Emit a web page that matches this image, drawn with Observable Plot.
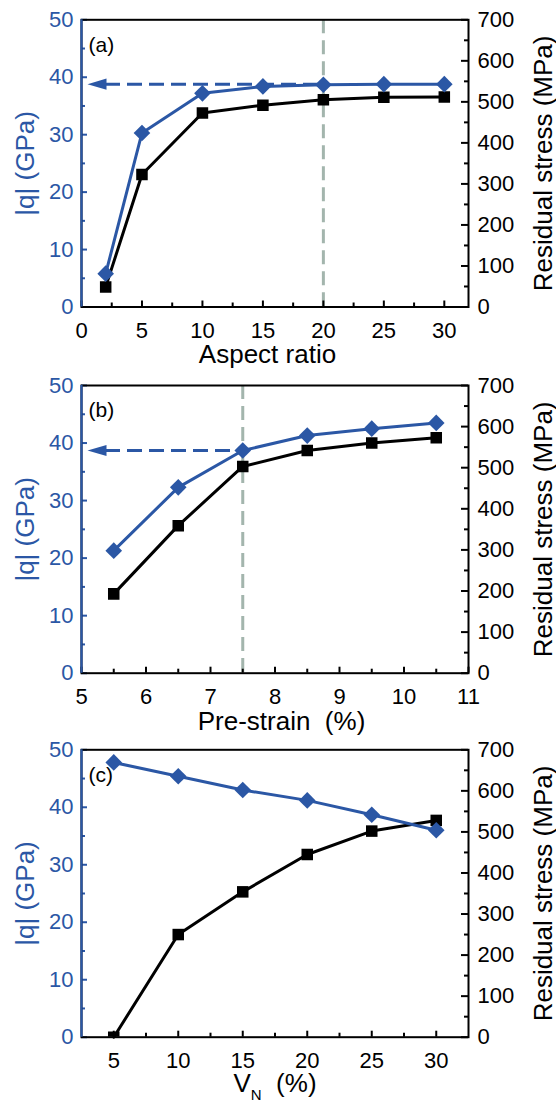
<!DOCTYPE html>
<html><head><meta charset="utf-8">
<script src="https://cdn.jsdelivr.net/npm/d3@7"></script>
<script src="https://cdn.jsdelivr.net/npm/@observablehq/plot@0.6"></script>
<style>
body{margin:0;background:#fff;}
#chart svg{display:block;}
#chart text{white-space:pre;}
</style></head><body><div id="chart"></div>
<script>
const BLUE = "#2b57a5";
const GRAY = "#a3b5ad";
const FONT = "'Liberation Sans', Arial, 'DejaVu Sans', sans-serif";

// Panel (a): aspect ratio
const aspectRatio = [2, 5, 10, 15, 20, 25, 30];
const aspectQ = [5.8, 30.3, 37.2, 38.4, 38.7, 38.8, 38.8];
const aspectStress = [49, 323, 473, 492, 505, 511, 512];
// Panel (b): pre-strain
const preStrain = [5.5, 6.5, 7.5, 8.5, 9.5, 10.5];
const preQ = [21.3, 32.3, 38.7, 41.3, 42.5, 43.5];
const preStress = [193, 359, 503, 542, 560, 573];
// Panel (c): V_N
const vnPercent = [5, 10, 15, 20, 25, 30];
const vnQ = [47.8, 45.4, 43.0, 41.2, 38.7, 36.0];
const vnStress = [0, 250, 354, 445, 502, 528];

// reference guide lines (vertical x, horizontal |q|)
const refX = [20, 7.5, null];
const refQ = [38.8, 38.7, null];

const panelLetters = ["(a)", "(b)", "(c)"];
const xLabels = ["Aspect ratio", "Pre-strain  (%)", "VN  (%)"];
const xDomains = [[0, 32], [5, 11], [2.5, 32.5]];
const xMajor = [[0, 5, 10, 15, 20, 25, 30], [5, 6, 7, 8, 9, 10, 11], [5, 10, 15, 20, 25, 30]];
const xMinor = [[2.5, 7.5, 12.5, 17.5, 22.5, 27.5], [5.5, 6.5, 7.5, 8.5, 9.5, 10.5], [7.5, 12.5, 17.5, 22.5, 27.5]];
const qTicks = [0, 10, 20, 30, 40, 50];
const qMinor = [5, 15, 25, 35, 45];
const stressTicks = [0, 100, 200, 300, 400, 500, 600, 700];
const stressMinor = [50, 150, 250, 350, 450, 550, 650];
const STRESS_PER_Q = 700 / 50; // right axis 0–700 MPa aligned with left 0–50 GPa

const W = 556, ML = 81, MR = 88;
const FW = W - ML - MR;
const layout = [
  {height: 367, mt: 19.3, mb: 60.5, labelDy: 38, labelDx: -7.5},
  {height: 367, mt: 18, mb: 61.3, labelDy: 38, labelDx: 6.5},
  {height: 369, mt: 15.3, mb: 66.3, labelDy: 36, labelDx: 0}
];

const arrowHead = {
  draw(context, size) {
    const r = Math.sqrt(size / Math.PI);
    context.moveTo(0, 0);
    context.lineTo(2 * r, -0.58 * r);
    context.lineTo(2 * r, 0.58 * r);
    context.closePath();
  }
};

function panel(i, xs, qs, stresses) {
  const L = layout[i];
  const FH = L.height - L.mt - L.mb;
  const rows = xs.map((x, j) => ({x, q: qs[j], s: stresses[j] / STRESS_PER_Q}));
  const xmin = xDomains[i][0];
  const sMaj = stressTicks.map(v => v / STRESS_PER_Q);
  const sMin = stressMinor.map(v => v / STRESS_PER_Q);
  const marks = [];
  if (refX[i] != null) {
    marks.push(Plot.ruleX([refX[i]], {stroke: GRAY, strokeWidth: 3, strokeDasharray: "14,7"}));
  }
  marks.push(
    // inward ticks
    Plot.tickY(qTicks, {stroke: BLUE, strokeWidth: 2, insetRight: FW - 6}),
    Plot.tickY(qMinor, {stroke: BLUE, strokeWidth: 2, insetRight: FW - 4}),
    Plot.tickY(sMaj, {stroke: "black", strokeWidth: 2, insetLeft: FW - 7}),
    Plot.tickY(sMin, {stroke: "black", strokeWidth: 2, insetLeft: FW - 4}),
    Plot.tickX(xMajor[i], {stroke: "black", strokeWidth: 2, insetTop: FH - 6}),
    Plot.tickX(xMinor[i], {stroke: "black", strokeWidth: 2, insetTop: FH - 4}),
    Plot.frame({stroke: "black", strokeWidth: 2}),
    Plot.ruleX([xmin], {stroke: BLUE, strokeWidth: 2.2}),
    // tick labels
    Plot.axisY(qTicks, {anchor: "left", tickSize: 0, tickPadding: 8, color: BLUE, fontSize: 22, label: null}),
    Plot.axisY(sMaj, {anchor: "right", tickSize: 0, tickPadding: 9, fontSize: 22, label: null, color: "black",
      tickFormat: d => String(Math.round(d * STRESS_PER_Q))}),
    Plot.axisX(xMajor[i], {anchor: "bottom", tickSize: 0, tickPadding: 15, fontSize: 22, label: null, color: "black"})
  );
  if (refQ[i] != null) {
    marks.push(
      Plot.ruleY([{y: refQ[i], x1: xmin, x2: refX[i]}], {y: "y", x1: "x1", x2: "x2", insetLeft: 24, stroke: BLUE, strokeWidth: 3, strokeDasharray: "15,7"}),
      Plot.dot([{x: xmin, y: refQ[i]}], {x: "x", y: "y", symbol: arrowHead, r: 9.5, fill: BLUE, stroke: "none", dx: 6})
    );
  }
  marks.push(
    Plot.line(rows, {x: "x", y: "s", stroke: "black", strokeWidth: 3}),
    Plot.dot(rows, {x: "x", y: "s", symbol: "square", r: 6.5, fill: "black", stroke: "none", clip: true}),
    Plot.line(rows, {x: "x", y: "q", stroke: BLUE, strokeWidth: 3}),
    Plot.dot(rows, {x: "x", y: "q", symbol: "diamond2", r: 7.5, fill: BLUE, stroke: "none", clip: true}),
    Plot.text([panelLetters[i]], {frameAnchor: "top-left", dx: 7, dy: 17, lineAnchor: "top", textAnchor: "start", fontSize: 21, fill: "black"}),
    Plot.text(["|q| (GPa)"], {frameAnchor: "left", rotate: -90, dx: -56, textAnchor: "middle", lineAnchor: "middle", fontSize: 26, fill: BLUE}),
    Plot.text(["Residual stress (MPa)"], {frameAnchor: "right", rotate: -90, dx: 75, textAnchor: "middle", lineAnchor: "middle", fontSize: 26, fill: "black"}),
    Plot.text([xLabels[i]], {frameAnchor: "bottom", dy: L.labelDy, dx: L.labelDx, textAnchor: "middle", lineAnchor: "top", fontSize: 26, fill: "black"})
  );
  const svg = Plot.plot({
    width: W,
    height: L.height,
    marginTop: L.mt,
    marginBottom: L.mb,
    marginLeft: ML,
    marginRight: MR,
    x: {domain: xDomains[i]},
    y: {domain: [0, 50]},
    style: {fontFamily: FONT, fontSize: "22px", background: "white", color: "black", overflow: "visible"},
    marks
  });
  svg.querySelectorAll("text").forEach(t => {
    if (t.textContent === "VN  (%)") {
      t.innerHTML = 'V<tspan font-size="15" dy="8">N</tspan><tspan dy="-8">  (%)</tspan>';
    }
  });
  return svg;
}

const root = document.getElementById("chart");
root.appendChild(panel(0, aspectRatio, aspectQ, aspectStress));
root.appendChild(panel(1, preStrain, preQ, preStress));
root.appendChild(panel(2, vnPercent, vnQ, vnStress));
</script>
</body></html>
